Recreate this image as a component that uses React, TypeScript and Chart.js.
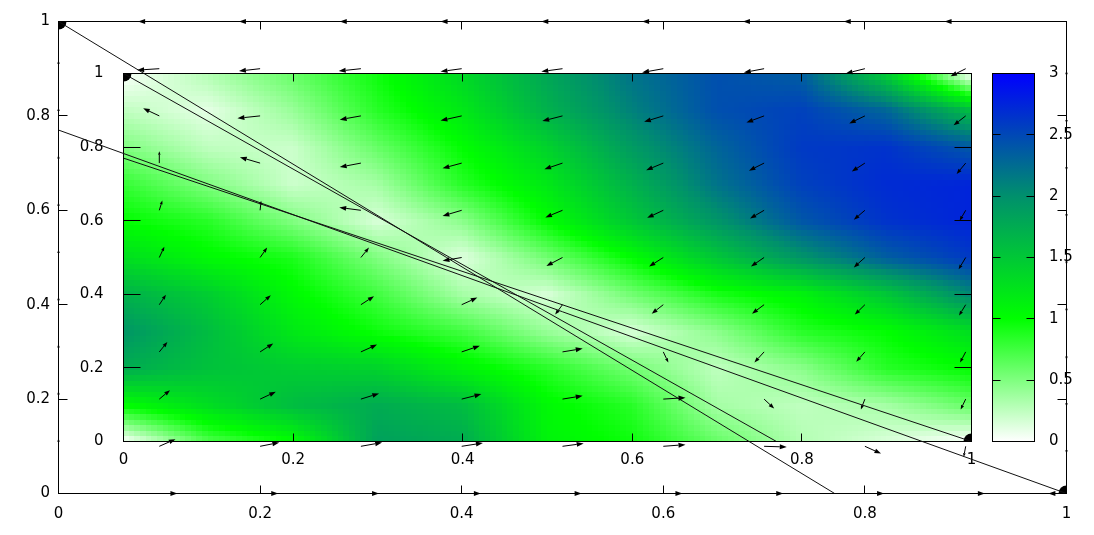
import React, { useEffect, useRef } from "react";
import { Chart, registerables } from "chart.js";

Chart.register(...registerables);

const PAGE_W = 1094;
const PAGE_H = 535;
const FONT = { family: "'DejaVu Sans', Verdana, sans-serif", size: 15 };

// ---------- tick labels ----------
const OUTER_X_TICKS = [0, 0.2, 0.4, 0.6, 0.8, 1];
const OUTER_Y_TICKS = [0, 0.2, 0.4, 0.6, 0.8, 1];
const INNER_X_TICKS = [0, 0.2, 0.4, 0.6, 0.8, 1];
const INNER_Y_TICKS = [0, 0.2, 0.4, 0.6, 0.8, 1];
const CB_TICKS = [0, 0.5, 1, 1.5, 2, 2.5, 3];

// ---------- vector field (outer axes) ----------
const VEC_X = [0, 0.1, 0.2, 0.3, 0.4, 0.5, 0.6, 0.7, 0.8, 0.9, 1];
const VEC_Y = [0, 0.1, 0.2, 0.3, 0.4, 0.5, 0.6, 0.7, 0.8, 0.9, 1];
// rows: y = 0 .. 1 ; columns: x = 0 .. 1
const VEC_DX = [
  [0, 0.018, 0.018, 0.018, 0.019, 0.019, 0.019, 0.019, 0.019, 0.019, -0.018],
  [0, 0.016, 0.019, 0.021, 0.021, 0.021, 0.022, 0.0225, 0.016, -0.002, 0],
  [0, 0.0106, 0.0156, 0.018, 0.0195, 0.02, 0.022, 0.01, -0.004, -0.005, 0],
  [0, 0.008, 0.013, 0.016, 0.018, 0.02, 0.005, -0.0096, -0.0086, -0.0056, 0],
  [0, 0.0066, 0.0106, 0.013, 0.0155, -0.0073, -0.0115, -0.012, -0.01, -0.0066, 0],
  [0, 0.005, 0.007, 0.008, -0.019, -0.016, -0.014, -0.013, -0.011, -0.007, 0],
  [0, 0.003, 0.001, -0.0215, -0.019, -0.017, -0.016, -0.014, -0.011, -0.006, 0],
  [0, 0, -0.02, -0.021, -0.019, -0.018, -0.017, -0.015, -0.013, -0.009, 0],
  [0, -0.016, -0.0225, -0.021, -0.021, -0.02, -0.019, -0.0175, -0.0155, -0.012, 0],
  [0, -0.022, -0.021, -0.022, -0.021, -0.021, -0.021, -0.02, -0.019, -0.015, 0],
  [0, -0.021, -0.021, -0.021, -0.021, -0.021, -0.021, -0.021, -0.021, -0.021, 0],
];
const VEC_DY = [
  [0, 0, 0, 0, 0, 0, 0, 0, 0, 0, 0],
  [0.017, 0.015, 0.008, 0.008, 0.007, 0.006, 0.0035, -0.0015, -0.0155, -0.0225, -0.016],
  [0.017, 0.019, 0.0155, 0.012, 0.0106, 0.007, 0.003, -0.02, -0.022, -0.022, -0.016],
  [0.017, 0.021, 0.018, 0.0155, 0.013, 0.007, -0.0225, -0.0225, -0.021, -0.0225, -0.017],
  [0.017, 0.021, 0.02, 0.018, 0.015, -0.021, -0.019, -0.019, -0.021, -0.023, -0.016],
  [0.017, 0.023, 0.021, 0.021, -0.007, -0.018, -0.019, -0.019, -0.021, -0.025, -0.016],
  [0.017, 0.021, 0.02, 0.006, -0.012, -0.015, -0.016, -0.0175, -0.02, -0.022, -0.016],
  [0.017, 0.025, 0.0125, -0.0085, -0.011, -0.013, -0.015, -0.016, -0.018, -0.023, -0.016],
  [0.018, 0.016, -0.005, -0.008, -0.01, -0.011, -0.0125, -0.014, -0.016, -0.02, -0.016],
  [0.018, -0.003, -0.005, -0.005, -0.006, -0.006, -0.008, -0.008, -0.01, -0.016, -0.016],
  [0, 0, 0, 0, 0, 0, 0, 0, 0, 0, 0],
];

// ---------- straight lines and corner markers ----------
const LINE_A = [{ x: 0, y: 1 }, { x: 0.77, y: 0 }]; // outer axes
const LINE_B = [{ x: 0, y: 0.77 }, { x: 1, y: 0 }]; // outer axes
const LINE_C = [{ x: 0, y: 1 }, { x: 0.77, y: 0 }]; // inner axes
const LINE_D = [{ x: 0, y: 0.77 }, { x: 1, y: 0 }]; // inner axes
const OUTER_MARKERS = [{ x: 0, y: 1 }, { x: 1, y: 0 }];
const INNER_MARKERS = [{ x: 0, y: 1 }, { x: 1, y: 0 }];

// ---------- heat map (inner axes), rows from v=1 (top) to v=0 (bottom), cols u=0..1 ----------
const HEAT_U = [0, 0.1, 0.2, 0.3, 0.4, 0.5, 0.6, 0.7, 0.8, 0.9, 1];
const HEAT_V = [1, 0.9, 0.8, 0.7, 0.6, 0.5, 0.4, 0.3, 0.2, 0.1, 0];
const HEAT_ROWS = [
  [0.0, 0.3, 0.6, 0.95, 1.35, 1.8, 2.2, 2.45, 2.35, 1.45, 0.0],
  [0.25, 0.1, 0.4, 0.85, 1.2, 1.7, 2.1, 2.45, 2.55, 2.3, 1.6],
  [0.5, 0.25, 0.2, 0.6, 1.0, 1.4, 1.9, 2.3, 2.6, 2.65, 2.4],
  [0.8, 0.5, 0.2, 0.35, 0.85, 1.2, 1.7, 2.2, 2.55, 2.7, 2.75],
  [1.0, 0.85, 0.5, 0.15, 0.45, 1.0, 1.5, 1.95, 2.4, 2.65, 2.75],
  [1.3, 1.05, 0.9, 0.5, 0.12, 0.55, 1.0, 1.5, 1.95, 2.35, 2.6],
  [1.7, 1.45, 1.05, 0.75, 0.35, 0.15, 0.55, 0.9, 1.1, 1.5, 2.05],
  [1.95, 1.6, 1.2, 0.95, 0.75, 0.4, 0.15, 0.45, 0.85, 1.0, 1.3],
  [1.75, 1.55, 1.45, 1.4, 1.1, 0.85, 0.55, 0.25, 0.45, 0.85, 1.0],
  [1.0, 1.3, 1.6, 1.75, 1.6, 1.05, 0.85, 0.35, 0.25, 0.35, 0.6],
  [0.0, 0.7, 1.0, 1.85, 1.75, 1.1, 0.95, 0.6, 0.3, 0.15, 0.0],
];

// ---------- palette ----------
const PALETTE_LEVELS = [0, 1, 2, 3];
const PALETTE_COLORS = [
  [255, 255, 255],
  [0, 255, 0],
  [0, 144, 108],
  [0, 0, 255],
];

function paletteRGB(z: number): number[] {
  const lv = PALETTE_LEVELS;
  const zz = Math.max(lv[0], Math.min(lv[lv.length - 1], z));
  let k = 0;
  while (k < lv.length - 2 && zz > lv[k + 1]) k++;
  const t = (zz - lv[k]) / (lv[k + 1] - lv[k]);
  const a = PALETTE_COLORS[k], b = PALETTE_COLORS[k + 1];
  return [0, 1, 2].map((c) => Math.round(a[c] + (b[c] - a[c]) * t));
}
function paletteCSS(z: number): string {
  const c = paletteRGB(z);
  return `rgb(${c[0]},${c[1]},${c[2]})`;
}

function heatAt(u: number, v: number): number {
  const n = HEAT_U.length - 1;
  const fu = Math.max(0, Math.min(n, ((u - HEAT_U[0]) / (HEAT_U[n] - HEAT_U[0])) * n));
  const fvTop = Math.max(0, Math.min(n, ((HEAT_V[0] - v) / (HEAT_V[0] - HEAT_V[n])) * n));
  const i0 = Math.min(n - 1, Math.floor(fu));
  const r0 = Math.min(n - 1, Math.floor(fvTop));
  const tu = fu - i0, tv = fvTop - r0;
  const a = HEAT_ROWS[r0][i0], b = HEAT_ROWS[r0][i0 + 1];
  const c = HEAT_ROWS[r0 + 1][i0], d = HEAT_ROWS[r0 + 1][i0 + 1];
  return (a * (1 - tu) + b * tu) * (1 - tv) + (c * (1 - tu) + d * tu) * tv;
}

// ---------- helpers ----------
function linScale(position: string, ticksArr: number[], padding: number, fit: number, min = 0, max = 1) {
  return {
    type: "linear",
    position,
    min,
    max,
    grid: { display: false, drawTicks: false },
    border: { display: false },
    ticks: {
      padding,
      font: FONT,
      color: "#000",
      autoSkip: false,
      maxRotation: 0,
      minRotation: 0,
      callback: (v: number) => String(v),
    },
    afterBuildTicks: (s: any) => {
      s.ticks = ticksArr.map((value) => ({ value }));
    },
    afterFit: (s: any) => {
      if (s.isHorizontal()) s.height = fit;
      else s.width = fit;
    },
  };
}

function framePlugin(id: string, opts: { xTicks?: number[]; xLen?: number; yTicks?: number[]; yLen?: number }) {
  return {
    id,
    afterDatasetsDraw(chart: any) {
      const { ctx, chartArea: a } = chart;
      const xs = chart.scales.x, ys = chart.scales.y;
      ctx.save();
      ctx.strokeStyle = "#000";
      ctx.lineWidth = 1;
      ctx.strokeRect(a.left, a.top, a.right - a.left, a.bottom - a.top);
      ctx.beginPath();
      if (opts.xTicks && opts.xLen) {
        for (const v of opts.xTicks) {
          const p = Math.floor(xs.getPixelForValue(v)) + 0.5;
          if (p <= a.left + 1 || p >= a.right - 1) continue;
          ctx.moveTo(p, a.bottom);
          ctx.lineTo(p, a.bottom - opts.xLen);
          ctx.moveTo(p, a.top);
          ctx.lineTo(p, a.top + opts.xLen);
        }
      }
      if (opts.yTicks && opts.yLen) {
        for (const v of opts.yTicks) {
          const p = Math.floor(ys.getPixelForValue(v)) + 0.5;
          if (p <= a.top + 1 || p >= a.bottom - 1) continue;
          ctx.moveTo(a.left, p);
          ctx.lineTo(a.left + opts.yLen, p);
          ctx.moveTo(a.right, p);
          ctx.lineTo(a.right - opts.yLen, p);
        }
      }
      ctx.stroke();
      ctx.restore();
    },
  };
}

function drawArrow(ctx: CanvasRenderingContext2D, x0: number, y0: number, x1: number, y1: number) {
  const dx = x1 - x0, dy = y1 - y0;
  const len = Math.hypot(dx, dy);
  if (len < 0.5) return;
  const ux = dx / len, uy = dy / len;
  const hl = Math.min(len, Math.hypot(7 * ux, 3.5 * uy));
  const hw = hl * 0.36;
  const bx = x1 - ux * hl, by = y1 - uy * hl;
  ctx.beginPath();
  ctx.moveTo(x0, y0);
  ctx.lineTo(bx, by);
  ctx.stroke();
  ctx.beginPath();
  ctx.moveTo(x1, y1);
  ctx.lineTo(bx - uy * hw, by + ux * hw);
  ctx.lineTo(bx + uy * hw, by - ux * hw);
  ctx.closePath();
  ctx.fill();
}

const vectorPlugin = {
  id: "vectors",
  afterDatasetsDraw(chart: any) {
    const { ctx } = chart;
    const xs = chart.scales.x, ys = chart.scales.y;
    ctx.save();
    ctx.strokeStyle = "#000";
    ctx.fillStyle = "#000";
    ctx.lineWidth = 1;
    for (let j = 0; j < VEC_Y.length; j++) {
      for (let i = 0; i < VEC_X.length; i++) {
        const dx = VEC_DX[j][i], dy = VEC_DY[j][i];
        if (dx === 0 && dy === 0) continue;
        const x0 = xs.getPixelForValue(VEC_X[i]);
        const y0 = ys.getPixelForValue(VEC_Y[j]);
        const x1 = xs.getPixelForValue(VEC_X[i] + dx);
        const y1 = ys.getPixelForValue(VEC_Y[j] + dy);
        drawArrow(ctx, x0, y0, x1, y1);
      }
    }
    ctx.restore();
  },
};

const heatmapPlugin = {
  id: "heatmap",
  beforeDatasetsDraw(chart: any) {
    const { ctx, chartArea: a } = chart;
    const xs = chart.scales.x, ys = chart.scales.y;
    const NU = 150, NV = 66;
    ctx.save();
    ctx.beginPath();
    ctx.rect(a.left, a.top, a.right - a.left, a.bottom - a.top);
    ctx.clip();
    for (let p = 0; p < NU; p++) {
      const px0 = Math.floor(xs.getPixelForValue(p / NU));
      const px1 = Math.ceil(xs.getPixelForValue((p + 1) / NU));
      for (let q = 0; q < NV; q++) {
        const py0 = Math.floor(ys.getPixelForValue((q + 1) / NV));
        const py1 = Math.ceil(ys.getPixelForValue(q / NV));
        ctx.fillStyle = paletteCSS(heatAt((p + 0.5) / NU, (q + 0.5) / NV));
        ctx.fillRect(px0, py0, px1 - px0, py1 - py0);
      }
    }
    ctx.restore();
  },
};

const lineStyle = {
  showLine: true,
  borderColor: "#111",
  borderWidth: 1,
  pointRadius: 0,
  pointHoverRadius: 0,
  clip: 0,
};
const markerStyle = {
  showLine: false,
  pointRadius: 8,
  pointHoverRadius: 8,
  backgroundColor: "#000",
  borderColor: "#000",
  borderWidth: 0,
  clip: 0,
};

const common = {
  animation: false,
  responsive: false,
  maintainAspectRatio: false,
  events: [],
  plugins: { legend: { display: false }, tooltip: { enabled: false } },
};

export default function App() {
  const innerRef = useRef<HTMLCanvasElement>(null);
  const cbRef = useRef<HTMLCanvasElement>(null);
  const outerRef = useRef<HTMLCanvasElement>(null);

  useEffect(() => {
    const charts: Chart[] = [];

    charts.push(
      new Chart(innerRef.current as HTMLCanvasElement, {
        type: "scatter",
        data: {
          datasets: [
            { data: LINE_C, ...lineStyle },
            { data: LINE_D, ...lineStyle },
            { data: INNER_MARKERS, ...markerStyle },
          ],
        },
        options: {
          ...common,
          layout: { padding: { left: 0, top: 73.5, right: PAGE_W - 971.5, bottom: 0 } },
          scales: {
            x: linScale("bottom", INNER_X_TICKS, 10, PAGE_H - 441.5),
            y: linScale("left", INNER_Y_TICKS, 20, 123.5),
          },
        } as any,
        plugins: [heatmapPlugin, framePlugin("innerFrame", { xTicks: INNER_X_TICKS, xLen: 8, yTicks: INNER_Y_TICKS, yLen: 17 })],
      } as any)
    );

    charts.push(
      new Chart(cbRef.current as HTMLCanvasElement, {
        type: "bar",
        data: {
          labels: ["z"],
          datasets: [
            {
              data: [[CB_TICKS[0], CB_TICKS[CB_TICKS.length - 1]]],
              barPercentage: 1,
              categoryPercentage: 1,
              borderWidth: 0,
              backgroundColor: (c: any) => {
                const chart = c.chart;
                if (!chart.chartArea) return "#0f0";
                const ys = chart.scales.y;
                const lv = PALETTE_LEVELS;
                const g = chart.ctx.createLinearGradient(0, ys.getPixelForValue(lv[0]), 0, ys.getPixelForValue(lv[lv.length - 1]));
                lv.forEach((l) => g.addColorStop((l - lv[0]) / (lv[lv.length - 1] - lv[0]), paletteCSS(l)));
                return g;
              },
            },
          ],
        },
        options: {
          ...common,
          layout: { padding: { left: 992.5, top: 73.5, right: 0, bottom: PAGE_H - 441.5 } },
          scales: {
            x: { display: false },
            y: linScale("right", CB_TICKS, 14.5, PAGE_W - 1034.5, 0, 3),
          },
        } as any,
        plugins: [framePlugin("cbFrame", { yTicks: CB_TICKS, yLen: 8 })],
      } as any)
    );

    charts.push(
      new Chart(outerRef.current as HTMLCanvasElement, {
        type: "scatter",
        data: {
          datasets: [
            { data: LINE_A, ...lineStyle },
            { data: LINE_B, ...lineStyle },
            { data: OUTER_MARKERS, ...markerStyle },
          ],
        },
        options: {
          ...common,
          layout: { padding: { left: 0, top: 21.5, right: PAGE_W - 1066.5, bottom: 0 } },
          scales: {
            x: linScale("bottom", OUTER_X_TICKS, 11.5, PAGE_H - 493.5),
            y: linScale("left", OUTER_Y_TICKS, 8.5, 58.5),
          },
        } as any,
        plugins: [framePlugin("outerFrame", { xTicks: OUTER_X_TICKS, xLen: 8, yTicks: OUTER_Y_TICKS, yLen: 9 }), vectorPlugin],
      } as any)
    );

    return () => charts.forEach((c) => c.destroy());
  }, []);

  const cs: React.CSSProperties = { position: "absolute", left: 0, top: 0, width: PAGE_W, height: PAGE_H, display: "block" };
  return (
    <div style={{ position: "fixed", left: 0, top: 0, width: PAGE_W, height: PAGE_H, background: "#fff" }}>
      <canvas ref={innerRef} width={PAGE_W} height={PAGE_H} style={cs} />
      <canvas ref={cbRef} width={PAGE_W} height={PAGE_H} style={cs} />
      <canvas ref={outerRef} width={PAGE_W} height={PAGE_H} style={cs} />
    </div>
  );
}
